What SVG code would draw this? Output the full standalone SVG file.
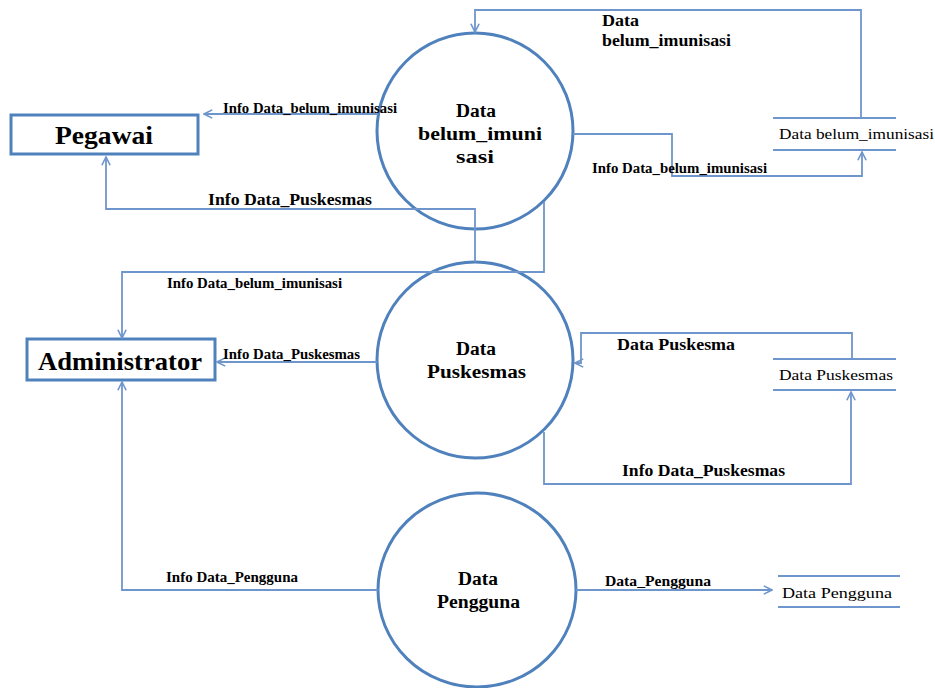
<svg xmlns="http://www.w3.org/2000/svg" width="935" height="688" viewBox="0 0 935 688" font-family="'Liberation Serif', 'Times New Roman', serif">
  <style>
    .bg { fill: #ffffff; }
    .entity { fill: #ffffff; stroke: #4f81bd; stroke-width: 3; }
    .process { fill: none; stroke: #4f81bd; stroke-width: 3; }
    .store { stroke: #6f96cc; stroke-width: 1.8; fill: none; }
    .flow { fill: none; stroke: #6f96cc; stroke-width: 1.8; marker-end: url(#arrow); }
    text { font-family: "Liberation Serif", "Times New Roman", serif; fill: #000000; }
    .ent-label { font-size: 26px; font-weight: bold; }
    .proc-label { font-size: 18px; font-weight: bold; }
    .store-label { font-size: 14px; }
    .flow-sm { font-size: 14px; font-weight: bold; }
    .flow-lg { font-size: 16px; font-weight: bold; }
  </style>
  <defs>
    <marker id="arrow" viewBox="0 0 12 12" refX="11" refY="6" markerWidth="11" markerHeight="11" markerUnits="userSpaceOnUse" orient="auto">
      <path d="M2,1.5 L11,6 L2,10.5" fill="none" stroke="#6f96cc" stroke-width="1.8"/>
    </marker>
  </defs>

  <rect class="bg" x="0" y="0" width="935" height="688"/>

  <!-- external entities -->
  <g id="pegawai">
    <rect class="entity" x="11" y="115" width="187" height="39"/>
    <text class="ent-label" x="55" y="144" textLength="98" lengthAdjust="spacingAndGlyphs">Pegawai</text>
  </g>
  <g id="administrator">
    <rect class="entity" x="27" y="339" width="188" height="41"/>
    <text class="ent-label" x="38" y="370" textLength="164" lengthAdjust="spacingAndGlyphs">Administrator</text>
  </g>

  <!-- processes -->
  <g id="proc-belum-imunisasi">
    <circle class="process" cx="475" cy="131" r="98"/>
    <text class="proc-label" x="456" y="117" textLength="40" lengthAdjust="spacingAndGlyphs">Data</text>
    <text class="proc-label" x="418" y="140" textLength="124" lengthAdjust="spacingAndGlyphs">belum_imuni</text>
    <text class="proc-label" x="456" y="163" textLength="38" lengthAdjust="spacingAndGlyphs">sasi</text>
  </g>
  <g id="proc-puskesmas">
    <circle class="process" cx="475" cy="360" r="98"/>
    <text class="proc-label" x="456" y="355" textLength="40" lengthAdjust="spacingAndGlyphs">Data</text>
    <text class="proc-label" x="427" y="378" textLength="99" lengthAdjust="spacingAndGlyphs">Puskesmas</text>
  </g>
  <g id="proc-pengguna">
    <ellipse class="process" cx="477" cy="590" rx="99" ry="97"/>
    <text class="proc-label" x="458" y="585" textLength="40" lengthAdjust="spacingAndGlyphs">Data</text>
    <text class="proc-label" x="437" y="608" textLength="83" lengthAdjust="spacingAndGlyphs">Pengguna</text>
  </g>

  <!-- data stores -->
  <g id="store-belum-imunisasi">
    <path class="store" d="M773,118 H896 M773,150 H896"/>
    <text class="store-label" x="779" y="139" textLength="155" lengthAdjust="spacingAndGlyphs">Data belum_imunisasi</text>
  </g>
  <g id="store-puskesmas">
    <path class="store" d="M773,359 H896 M773,390 H896"/>
    <text class="store-label" x="779" y="380" textLength="114" lengthAdjust="spacingAndGlyphs">Data Puskesmas</text>
  </g>
  <g id="store-pengguna">
    <path class="store" d="M778,576 H900 M778,607 H900"/>
    <text class="store-label" x="782" y="598" textLength="110" lengthAdjust="spacingAndGlyphs">Data Pengguna</text>
  </g>

  <!-- data flows -->
  <g id="connectors">
    <path class="flow" d="M378,114 H204"/>
    <path class="flow" d="M475,262 V209 H106 V157"/>
    <path class="flow" d="M544,202 V272 H122 V338"/>
    <path class="flow" d="M377,362 H217"/>
    <path class="flow" d="M378,590 H122 V382"/>
    <path class="flow" d="M576,590 H772"/>
    <path class="flow" d="M861,118 V10 H475 V32"/>
    <path class="flow" d="M573,134 H672 V176 H862 V152"/>
    <path class="flow" d="M852,359 V333 H581 V363 H575"/>
    <path class="flow" d="M544,432 V484 H851 V392"/>

    <text class="flow-sm" x="223" y="113" textLength="174" lengthAdjust="spacingAndGlyphs">Info Data_belum_imunisasi</text>
    <text class="flow-lg" x="208" y="205" textLength="164" lengthAdjust="spacingAndGlyphs">Info Data_Puskesmas</text>
    <text class="flow-sm" x="167" y="288" textLength="175" lengthAdjust="spacingAndGlyphs">Info Data_belum_imunisasi</text>
    <text class="flow-sm" x="223" y="359" textLength="137" lengthAdjust="spacingAndGlyphs">Info Data_Puskesmas</text>
    <text class="flow-sm" x="166" y="582" textLength="132" lengthAdjust="spacingAndGlyphs">Info Data_Pengguna</text>
    <text class="flow-sm" x="605" y="586" textLength="106" lengthAdjust="spacingAndGlyphs">Data_Pengguna</text>
    <text class="flow-lg" x="602" y="26" textLength="37" lengthAdjust="spacingAndGlyphs">Data</text>
    <text class="flow-lg" x="602" y="46" textLength="129" lengthAdjust="spacingAndGlyphs">belum_imunisasi</text>
    <text class="flow-sm" x="592" y="173" textLength="175" lengthAdjust="spacingAndGlyphs">Info Data_belum_imunisasi</text>
    <text class="flow-lg" x="617" y="350" textLength="118" lengthAdjust="spacingAndGlyphs">Data Puskesma</text>
    <text class="flow-lg" x="622" y="476" textLength="163" lengthAdjust="spacingAndGlyphs">Info Data_Puskesmas</text>
  </g>
</svg>
